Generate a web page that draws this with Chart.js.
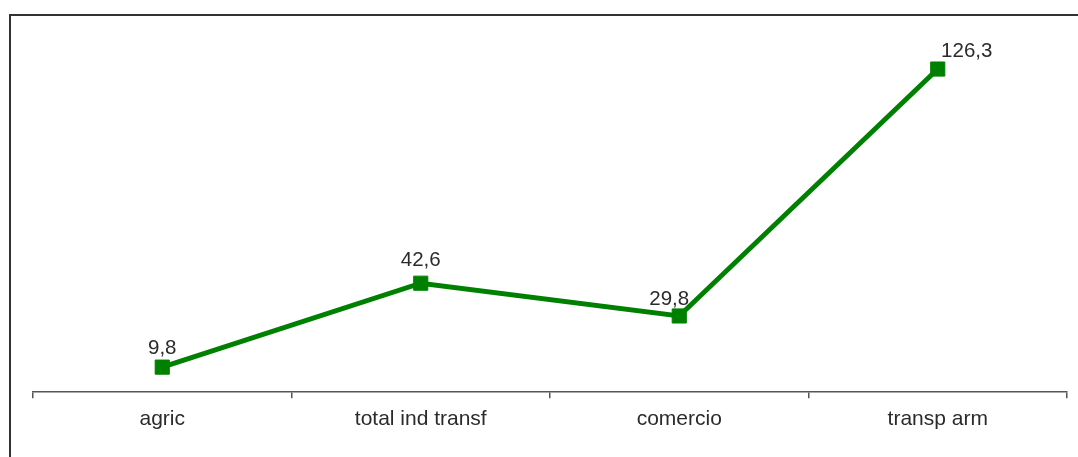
<!DOCTYPE html>
<html>
<head>
<meta charset="utf-8">
<script src="https://cdn.jsdelivr.net/npm/chart.js@4/dist/chart.umd.min.js"></script>
<style>
  html, body { margin: 0; padding: 0; background: #fff; overflow: hidden; }
  #wrap { position: relative; width: 1078px; height: 457px; }
  #frame { position: absolute; left: 9px; top: 14px; width: 1200px; height: 600px; border: 2px solid #333; box-sizing: border-box; pointer-events: none; }
  canvas { position: absolute; left: 0; top: 0; }
</style>
</head>
<body>
<div id="wrap">
  <div id="frame"></div>
  <canvas id="c" width="1078" height="457"></canvas>
</div>
<script>
const categories = ['agric', 'total ind transf', 'comercio', 'transp arm'];
const values = [9.8, 42.6, 29.8, 126.3];
const valueLabels = ['9,8', '42,6', '29,8', '126,3'];

const labelPlugin = {
  id: 'valueLabels',
  afterDatasetsDraw(chart, args, opts) {
    const ctx = chart.ctx;
    const meta = chart.getDatasetMeta(0);
    ctx.save();
    ctx.font = opts.font;
    ctx.fillStyle = opts.color;
    ctx.textAlign = 'center';
    ctx.textBaseline = 'alphabetic';
    meta.data.forEach((pt, i) => {
      const dx = opts.dx[i] || 0;
      const dy = opts.dy[i] || 0;
      ctx.fillText(valueLabels[i], pt.x + dx, pt.y + dy);
    });
    ctx.restore();
  }
};

new Chart(document.getElementById('c'), {
  type: 'line',
  data: {
    labels: categories,
    datasets: [{
      data: values,
      borderColor: '#008000',
      backgroundColor: '#008000',
      borderWidth: 5,
      pointStyle: 'rect',
      pointRadius: 10,
      pointBorderWidth: 1,
      pointBackgroundColor: '#008000',
      pointBorderColor: '#008000',
      tension: 0,
      fill: false
    }]
  },
  options: {
    responsive: false,
    animation: false,
    events: [],
    layout: { padding: { left: 33, right: 6, top: 34, bottom: 17.6 } },
    plugins: {
      legend: { display: false },
      tooltip: { enabled: false },
      valueLabels: {
        font: '20.5px "Liberation Sans", Arial, sans-serif',
        color: '#2b2b2b',
        dx: [0, 0, -10, 29],
        dy: [-13, -17, -11, -12]
      }
    },
    scales: {
      x: {
        offset: true,
        grid: { display: true, drawOnChartArea: false, drawTicks: true, tickLength: 6, offset: true, color: '#555555', lineWidth: 1.5 },
        border: { display: true, color: '#555555', width: 1.5 },
        ticks: { color: '#2b2b2b', padding: 8, font: { family: '"Liberation Sans", Arial, sans-serif', size: 21 } }
      },
      y: {
        display: false,
        min: 0,
        max: 140
      }
    }
  },
  plugins: [labelPlugin]
});
</script>
</body>
</html>
